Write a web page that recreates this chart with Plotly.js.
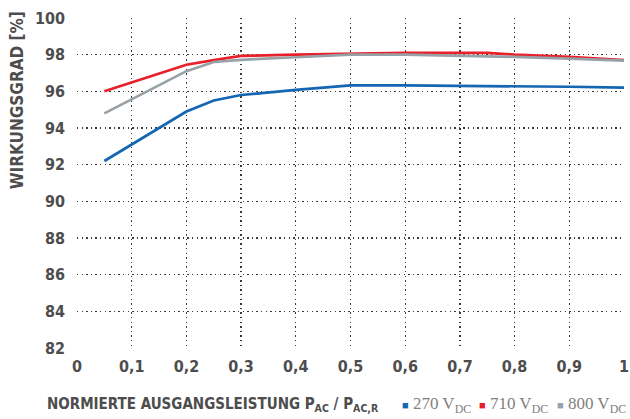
<!DOCTYPE html>
<html>
<head>
<meta charset="utf-8">
<script src="https://cdn.plot.ly/plotly-3.0.1.min.js"></script>
<style>html,body{margin:0;padding:0;background:#fff;}#chart{width:630px;height:419px;}</style>
</head>
<body>
<div id="chart"></div>
<script>
const xValues = [0.05, 0.2, 0.25, 0.3, 0.4, 0.5, 0.6, 0.7, 0.75, 0.8, 0.9, 1.0];
const eff270 = [92.2, 94.9, 95.5, 95.8, 96.08, 96.33, 96.32, 96.3, 96.3, 96.28, 96.25, 96.2];
const eff710 = [96.0, 97.45, 97.7, 97.93, 98.0, 98.05, 98.1, 98.1, 98.1, 98.0, 97.88, 97.7];
const eff800 = [94.8, 97.1, 97.6, 97.72, 97.86, 98.0, 98.0, 97.95, 97.93, 97.88, 97.78, 97.68];
const seriesNames = ['270 V<sub>DC</sub>', '710 V<sub>DC</sub>', '800 V<sub>DC</sub>'];
const seriesColors = ['#1466b3', '#e8202a', '#97a1a8'];
const xTickVals = [0, 0.1, 0.2, 0.3, 0.4, 0.5, 0.6, 0.7, 0.8, 0.9, 1];
const xTickText = ['0', '0,1', '0,2', '0,3', '0,4', '0,5', '0,6', '0,7', '0,8', '0,9', '1'];
const yTickVals = [82, 84, 86, 88, 90, 92, 94, 96, 98, 100];
const yTitle = 'WIRKUNGSGRAD [%]';
const xTitle = 'NORMIERTE AUSGANGSLEISTUNG P<sub>AC</sub> / P<sub>AC,R</sub>';

const seriesData = [eff270, eff710, eff800];
const traces = seriesData.map((ys, i) => ({
  x: xValues, y: ys, mode: 'lines', name: seriesNames[i],
  line: {color: seriesColors[i], width: 2.7}, hoverinfo: 'skip'
}));

const boldFont = '"DejaVu Sans Condensed", "Liberation Sans Narrow", sans-serif';
const tickFont = {family: boldFont, size: 16, color: '#4d4d4d', weight: 'bold'};

// legend entries as annotations (square + serif label)
const legendX = [0.5905, 0.7313, 0.874];
const legendAnns = seriesNames.map((n, i) => ({
  text: '<span style="color:' + seriesColors[i] + ';font-size:11px">■</span> ' + n,
  xref: 'paper', yref: 'paper', x: legendX[i], y: -0.1727, xanchor: 'left', yanchor: 'middle',
  showarrow: false, font: {family: '"Liberation Serif", serif', size: 17, color: '#808080'}
}));

const gridStyle = {showgrid: true, gridcolor: '#3a3a3a', griddash: '1.4px,3.2px', gridwidth: 1.4};

const layout = {
  width: 630, height: 419,
  margin: {l: 77, r: 6, t: 18, b: 71},
  paper_bgcolor: '#fff', plot_bgcolor: '#fff',
  showlegend: false,
  xaxis: Object.assign({range: [0, 1], tickvals: xTickVals, ticktext: xTickText, tickfont: tickFont,
    zeroline: false, showline: false, ticks: '', ticklabelstandoff: 7, fixedrange: true}, gridStyle),
  yaxis: Object.assign({range: [82, 100], tickvals: yTickVals, tickfont: tickFont,
    zeroline: false, showline: false, ticks: '', ticklabelstandoff: 11, fixedrange: true}, gridStyle),
  annotations: [
    {text: yTitle, xref: 'paper', yref: 'paper', x: -0.11, y: 0.75, xanchor: 'center', yanchor: 'middle',
      textangle: -90, showarrow: false, font: {family: boldFont, size: 17, color: '#4d4d4d', weight: 'bold'}},
    {text: xTitle, xref: 'paper', yref: 'paper',
      x: -0.0585, y: -0.1727, xanchor: 'left', yanchor: 'middle', showarrow: false,
      font: {family: boldFont, size: 15, color: '#4d4d4d', weight: 'bold'}}
  ].concat(legendAnns)
};

Plotly.newPlot('chart', traces, layout, {displayModeBar: false, staticPlot: true});
</script>
</body>
</html>
